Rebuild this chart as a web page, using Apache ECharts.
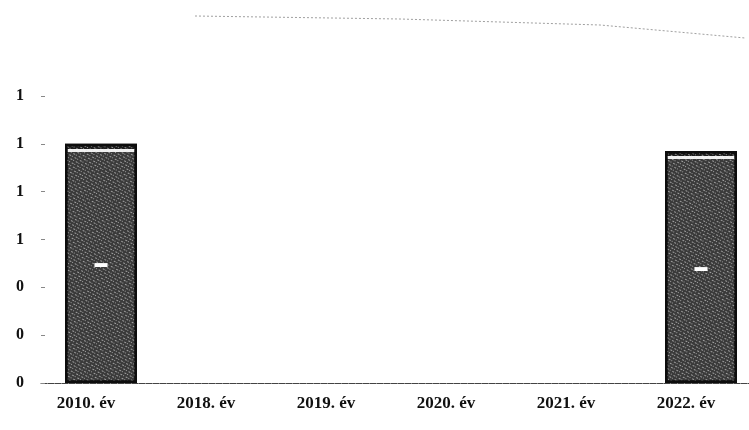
<!DOCTYPE html>
<html>
<head>
<meta charset="utf-8">
<script src="https://cdn.jsdelivr.net/npm/echarts@6/dist/echarts.min.js"></script>
<style>
  html, body { margin: 0; padding: 0; background: #fff; overflow: hidden; width: 749px; height: 430px; }
  #chart { width: 770px; height: 430px; }
</style>
</head>
<body>
<div id="chart"></div>
<script>
// Years shown along the bottom
const categories = ['2010. év', '2018. év', '2019. év', '2020. év', '2021. év', '2022. év'];
// Bar heights (only the first and last year carry a value)
const values = [1.0, null, null, null, null, 0.97];
// Value axis range
const yMin = 0;
const yMax = 1.2;
const yStep = 0.2;

const chart = echarts.init(document.getElementById('chart'), null, { renderer: 'canvas' });

const serif = '"Liberation Serif", "DejaVu Serif", serif';

// Dark bar with a thin light band just under its top edge
const barFill = new echarts.graphic.LinearGradient(0, 0, 0, 1, [
  { offset: 0, color: '#1c1c1c' },
  { offset: 0.02, color: '#1c1c1c' },
  { offset: 0.02, color: '#f2f2f2' },
  { offset: 0.033, color: '#f2f2f2' },
  { offset: 0.033, color: '#3a3a3a' },
  { offset: 1, color: '#3a3a3a' }
]);

chart.setOption({
  animation: false,
  backgroundColor: '#ffffff',
  grid: { left: 41, right: 9, top: 96, bottom: 47, containLabel: false },
  xAxis: {
    type: 'category',
    data: categories,
    boundaryGap: true,
    axisLine: { show: true, lineStyle: { color: '#444', width: 1, type: [6, 1] } },
    axisTick: { show: false },
    axisLabel: {
      color: '#111',
      fontFamily: serif,
      fontWeight: 'bold',
      fontSize: 17,
      margin: 12,
      padding: [0, 30, 0, 0]
    },
    splitLine: { show: false }
  },
  yAxis: {
    type: 'value',
    min: yMin,
    max: yMax,
    interval: yStep,
    axisLine: { show: false },
    axisTick: { show: true, inside: true, length: 4, lineStyle: { color: '#888' } },
    splitLine: { show: false },
    axisLabel: {
      color: '#111',
      fontFamily: serif,
      fontWeight: 'bold',
      fontSize: 16,
      margin: 17,
      formatter: v => String(Math.round(v))
    }
  },
  series: [{
    type: 'bar',
    data: values,
    barWidth: 72,
    itemStyle: {
      color: barFill,
      borderColor: '#0d0d0d',
      borderWidth: 2.5,
      decal: {
        symbol: 'rect',
        symbolSize: 1,
        color: 'rgba(225,225,225,0.6)',
        dashArrayX: [[2, 1, 1, 2], [1, 2, 2, 1]],
        dashArrayY: [1, 2],
        rotation: 0.5
      }
    },
    label: {
      show: true,
      position: 'inside',
      formatter: '▬',
      color: '#ffffff',
      fontSize: 13
    }
  }],
  graphic: [{
    type: 'polyline',
    shape: { points: [[195, 16], [400, 19], [600, 25], [745, 38]] },
    style: { stroke: '#a0a0a0', lineWidth: 1, lineDash: [2, 2], fill: null },
    silent: true
  }]
});
</script>
</body>
</html>
